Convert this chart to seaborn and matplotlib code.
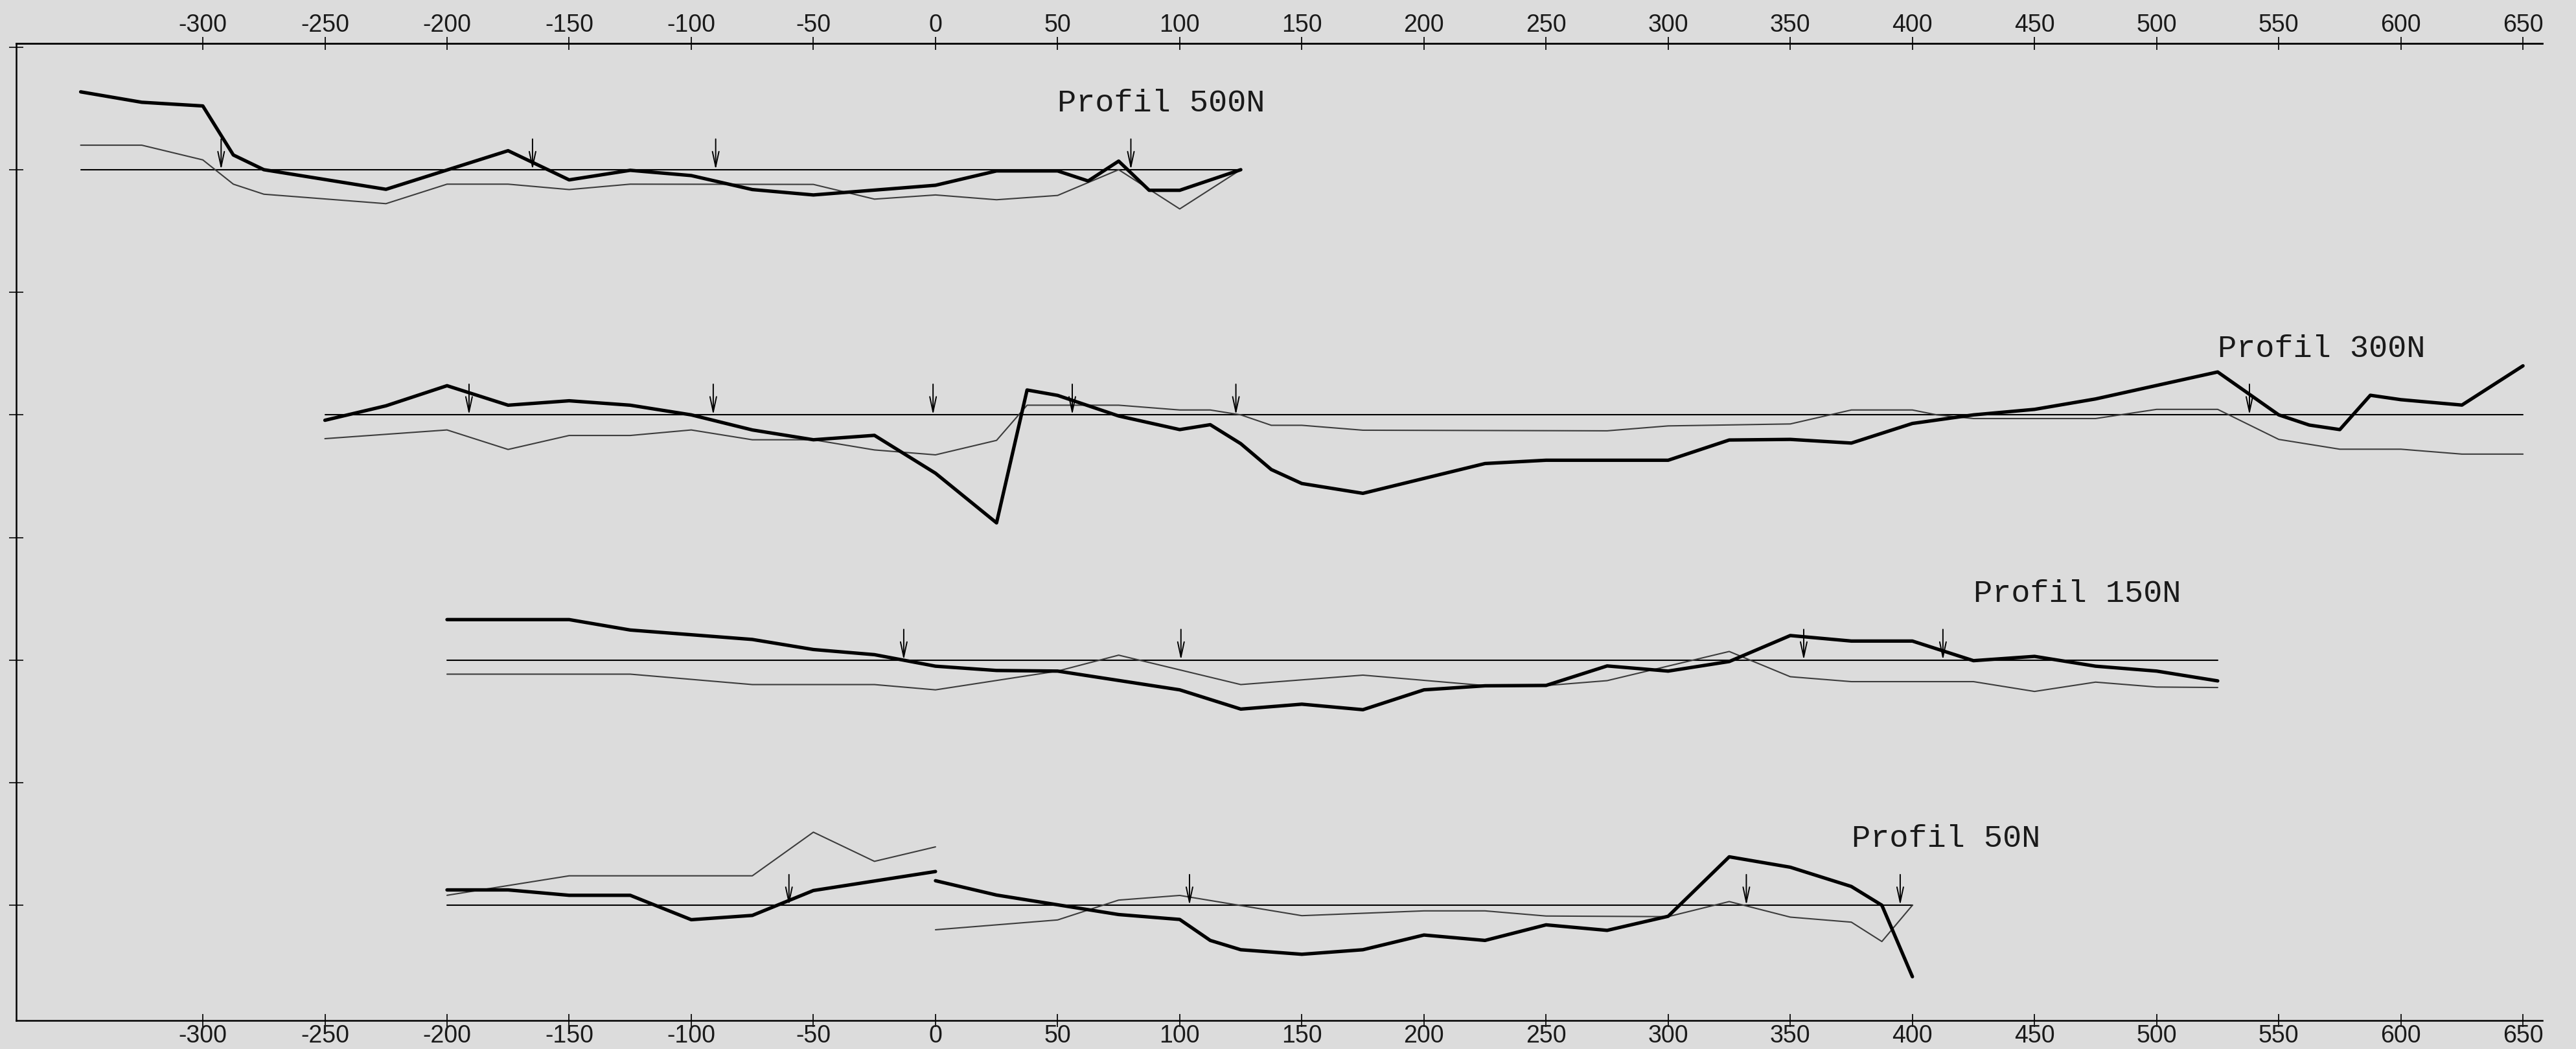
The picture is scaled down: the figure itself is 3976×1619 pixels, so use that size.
import matplotlib
matplotlib.use("Agg")
import matplotlib.pyplot as plt
import seaborn as sns

# Stationen (m) entlang der Profile
x_ticks = list(range(-300, 651, 50))
x_tick_labels = [str(v) for v in x_ticks]
y_ticks = list(range(0, 8))

# Profil 500N
p500_thick_x = [-350, -325, -300, -287.5, -275, -225, -175, -150, -125, -100, -75, -50, 0, 25, 50, 62.5, 75, 87.5, 100, 125]
p500_thick_y = [0.635, 0.55, 0.52, 0.12, 0.0, -0.16, 0.155, -0.083, -0.005, -0.048, -0.162, -0.206, -0.127, -0.01, -0.01, -0.092, 0.07, -0.168, -0.168, 0.0]
p500_thin_x = [-350, -325, -300, -287.5, -275, -225, -200, -175, -150, -125, -50, -25, 0, 25, 50, 75, 100, 125]
p500_thin_y = [0.2, 0.2, 0.08, -0.118, -0.2, -0.277, -0.118, -0.118, -0.162, -0.118, -0.12, -0.24, -0.206, -0.245, -0.21, 0.0, -0.32, 0.0]
p500_arrows = [-292.5, -165, -90, 80]
p500_span = [-350, 125]

# Profil 300N
p300_thick_x = [-250, -225, -200, -175, -150, -125, -100, -75, -50, -25, 0, 25, 37.5, 50, 75, 100, 112.5, 125, 137.5,
                150, 175, 225, 250, 300, 325, 350, 375, 400, 425, 450, 475, 525, 550, 562.5, 575, 587.5, 600, 625, 650]
p300_thick_y = [-0.044, 0.074, 0.238, 0.079, 0.115, 0.079, 0.0, -0.123, -0.203, -0.167, -0.476, -0.881, 0.203, 0.159,
                -0.009, -0.12, -0.08, -0.235, -0.446, -0.56, -0.64, -0.397, -0.37, -0.37, -0.205, -0.2, -0.23, -0.07,
                0.0, 0.045, 0.13, 0.35, 0.0, -0.083, -0.12, 0.16, 0.124, 0.08, 0.4]
p300_thin_x = [-250, -200, -175, -150, -125, -100, -75, -50, -25, 0, 25, 37.5, 75, 100, 112.5, 125, 137.5, 150, 175,
               275, 300, 350, 375, 400, 410, 425, 475, 500, 525, 550, 575, 600, 625, 650]
p300_thin_y = [-0.194, -0.123, -0.282, -0.168, -0.168, -0.123, -0.203, -0.203, -0.286, -0.326, -0.208, 0.079, 0.079,
               0.04, 0.04, 0.0, -0.085, -0.085, -0.125, -0.13, -0.09, -0.074, 0.04, 0.04, 0.0, -0.03, -0.03, 0.045,
               0.045, -0.2, -0.28, -0.28, -0.32, -0.32]
p300_arrows = [-191, -91, -1, 56, 123, 538]
p300_span = [-250, 650]

# Profil 150N
p150_thick_x = [-200, -150, -125, -75, -50, -25, 0, 25, 50, 100, 125, 150, 175, 200, 225, 250, 275, 300, 325, 350,
                375, 400, 425, 450, 475, 500, 525]
p150_thick_y = [0.33, 0.33, 0.245, 0.168, 0.086, 0.044, -0.05, -0.085, -0.09, -0.243, -0.40, -0.36, -0.405, -0.243,
                -0.21, -0.207, -0.048, -0.09, -0.012, 0.2, 0.155, 0.155, -0.005, 0.03, -0.05, -0.09, -0.17]
p150_thin_x = [-200, -125, -75, -25, 0, 50, 75, 125, 175, 225, 250, 275, 325, 350, 375, 425, 450, 475, 500, 525]
p150_thin_y = [-0.115, -0.115, -0.2, -0.2, -0.243, -0.09, 0.04, -0.2, -0.123, -0.208, -0.208, -0.168, 0.07, -0.136,
               -0.176, -0.176, -0.256, -0.18, -0.22, -0.224]
p150_arrows = [-13, 100.5, 355.5, 412.5]
p150_span = [-200, 525]

# Profil 50N (zwei Abschnitte, Sprung bei 0)
p50_thick_x1 = [-200, -175, -150, -125, -100, -75, -50, 0]
p50_thick_y1 = [0.125, 0.125, 0.081, 0.081, -0.118, -0.083, 0.12, 0.275]
p50_thick_x2 = [0, 25, 75, 100, 112.5, 125, 150, 175, 200, 225, 250, 275, 300, 325, 350, 375, 387.5, 400]
p50_thick_y2 = [0.2, 0.083, -0.076, -0.116, -0.287, -0.363, -0.4, -0.363, -0.243, -0.287, -0.16, -0.205, -0.09,
                0.395, 0.31, 0.153, 0.0, -0.583]
p50_thin_x1 = [-200, -150, -75, -50, -25, 0]
p50_thin_y1 = [0.081, 0.24, 0.24, 0.596, 0.358, 0.476]
p50_thin_x2 = [0, 50, 75, 100, 150, 200, 225, 250, 300, 325, 350, 375, 387.5, 400]
p50_thin_y2 = [-0.2, -0.12, 0.042, 0.08, -0.085, -0.046, -0.046, -0.088, -0.093, 0.03, -0.097, -0.138, -0.296, 0.0]
p50_arrows = [-60, 104, 332, 395]
p50_span = [-200, 400]

# Anordnung: Name, Grundlinie, Titel-x, Linien
profiles = [
    ("Profil 500N", 6, 50, p500_span, [(p500_thick_x, p500_thick_y)], [(p500_thin_x, p500_thin_y)], p500_arrows),
    ("Profil 300N", 4, 525, p300_span, [(p300_thick_x, p300_thick_y)], [(p300_thin_x, p300_thin_y)], p300_arrows),
    ("Profil 150N", 2, 425, p150_span, [(p150_thick_x, p150_thick_y)], [(p150_thin_x, p150_thin_y)], p150_arrows),
    ("Profil 50N", 0, 375, p50_span,
     [(p50_thick_x1, p50_thick_y1), (p50_thick_x2, p50_thick_y2)],
     [(p50_thin_x1, p50_thin_y1), (p50_thin_x2, p50_thin_y2)], p50_arrows),
]

bg = "#dcdcdc"
sns.set_theme(style="white")
plt.rcParams['font.family'] = ['Liberation Sans', 'DejaVu Sans']

fig = plt.figure(figsize=(39.76, 16.19), dpi=100, facecolor=bg)
ax = fig.add_axes([0.0062, 0.0272, 0.987 - 0.0062, 0.9586 - 0.0272])
ax.set_facecolor(bg)

for name, base, tx, span, thick, thin, arrows in profiles:
    # Grundlinie
    sns.lineplot(x=span, y=[base, base], color="black", linewidth=1.5, ax=ax)
    for xs, ys in thin:
        sns.lineplot(x=xs, y=[base + v for v in ys], color="#3c3c3c", linewidth=1.5,
                     sort=False, estimator=None, ax=ax)
    for xs, ys in thick:
        sns.lineplot(x=xs, y=[base + v for v in ys], color="black", linewidth=3.8,
                     sort=False, estimator=None, ax=ax)
    for xa in arrows:
        ax.annotate("", xy=(xa, base), xytext=(xa, base + 0.25),
                    arrowprops=dict(arrowstyle="->,head_length=1.4,head_width=0.3",
                                    color="black", lw=1.4, mutation_scale=12,
                                    shrinkA=0, shrinkB=0))
    ax.text(tx, base + 0.54, name, fontsize=35, family=["Liberation Mono", "DejaVu Sans Mono"],
            va="center", ha="left", color="#1a1a1a")

ax.set_xlim(-376.5, 658)
ax.set_ylim(-0.94, 7.03)

for side in ["top", "bottom", "left"]:
    ax.spines[side].set_visible(True)
    ax.spines[side].set_color("black")
    ax.spines[side].set_linewidth(1.8)
ax.spines["right"].set_visible(False)

ax.set_xticks(x_ticks)
ax.set_xticklabels(x_tick_labels)
ax.set_yticks(y_ticks)
ax.set_yticklabels([])
ax.tick_params(axis="x", bottom=True, top=False, direction="inout", length=14, width=1.4,
               labelsize=27, pad=-3, colors="#1a1a1a")
ax.tick_params(axis="y", left=True, direction="inout", length=16, width=1.4)

top = ax.secondary_xaxis("top")
top.set_xticks(x_ticks)
top.set_xticklabels(x_tick_labels)
top.tick_params(direction="inout", length=14, width=1.4, labelsize=27, pad=0.5, colors="#1a1a1a")
top.spines["top"].set_linewidth(1.8)

ax.set_xlabel("")
ax.set_ylabel("")
ax.grid(False)

fig.savefig("out.png", dpi=100, facecolor=bg)
